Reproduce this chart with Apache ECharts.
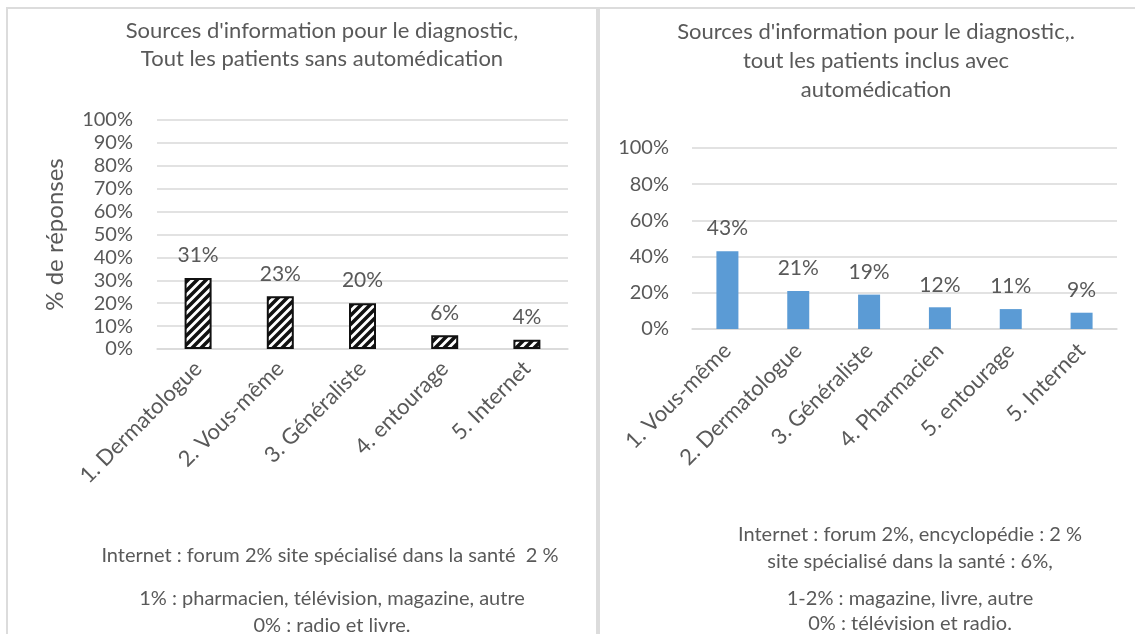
<!DOCTYPE html>
<html>
<head>
<meta charset="utf-8">
<script src="https://cdn.jsdelivr.net/npm/echarts@6/dist/echarts.min.js"></script>
<style>
  html, body { margin: 0; padding: 0; background: #fff; }
  #chart { width: 1135px; height: 634px; }
</style>
</head>
<body>
<div id="chart"></div>
<script>
// Données
const leftCategories = ['1. Dermatologue', '2. Vous-même', '3. Généraliste', '4. entourage', '5. Internet']
const leftValues = [31, 23, 20, 6, 4]
const leftTicks = [0, 10, 20, 30, 40, 50, 60, 70, 80, 90, 100]

const rightCategories = ['1. Vous-même', '2. Dermatologue', '3. Généraliste', '4. Pharmacien', '5. entourage', '5. Internet']
const rightValues = [43, 21, 19, 12, 11, 9]
const rightTicks = [0, 20, 40, 60, 80, 100]

const leftTitle = "Sources d'information pour le diagnostic,\nTout les patients sans automédication"
const rightTitle = "Sources d'information pour le diagnostic,.\ntout les patients inclus avec\nautomédication"
const leftNotes = 'Internet : forum 2% site spécialisé dans la santé  2 %'
const leftNotes2 = '1% : pharmacien, télévision, magazine, autre\n0% : radio et livre.'
const rightNotes = 'Internet : forum 2%, encyclopédie : 2 %\nsite spécialisé dans la santé : 6%,'
const rightNotes2 = '1-2% : magazine, livre, autre\n0% : télévision et radio.'

const FONT = 'Lato, "Open Sans", sans-serif'
const GREY = '#595959'

// motif hachuré pour les barres de gauche
function makeHatch() {
  const c = document.createElement('canvas')
  c.width = 9
  c.height = 9
  const ctx = c.getContext('2d')
  ctx.fillStyle = '#fff'
  ctx.fillRect(0, 0, 9, 9)
  ctx.strokeStyle = '#111'
  ctx.lineWidth = 3.5
  ctx.beginPath()
  ctx.moveTo(-2, 11); ctx.lineTo(11, -2)
  ctx.moveTo(-11, 11); ctx.lineTo(2, -2)
  ctx.moveTo(7, 11); ctx.lineTo(20, -2)
  ctx.stroke()
  return c
}

const chart = echarts.init(document.getElementById('chart'))

const valueAxisBase = {
  type: 'value',
  min: 0,
  max: 100,
  axisLine: { show: false },
  axisTick: { show: false },
  splitLine: { lineStyle: { color: '#d9d9d9', width: 1.5 } },
  axisLabel: { color: GREY, fontSize: 20, fontFamily: FONT, formatter: '{value}%' }
}

const catAxisBase = {
  type: 'category',
  axisLine: { lineStyle: { color: '#d9d9d9', width: 1.5 } },
  axisTick: { show: false },
  axisLabel: { color: GREY, fontSize: 22, fontFamily: FONT, rotate: 45, interval: 0 }
}

const labelBase = {
  show: true,
  position: 'top',
  distance: 12,
  color: GREY,
  fontSize: 21,
  fontFamily: FONT,
  formatter: '{c}%'
}

const titleStyle = { color: GREY, fontSize: 22, fontWeight: 'normal', fontFamily: FONT }
const noteStyle = { color: GREY, fontSize: 20, fontWeight: 'normal', fontFamily: FONT }

chart.setOption({
  animation: false,
  title: [
    { text: leftTitle, left: 317, top: 12, textAlign: 'center',
      textStyle: Object.assign({ lineHeight: 28 }, titleStyle) },
    { text: rightTitle, left: 871, top: 12, textAlign: 'center',
      textStyle: Object.assign({ lineHeight: 29 }, titleStyle) },
    { text: leftNotes, left: 325, top: 537, textAlign: 'center',
      textStyle: Object.assign({ lineHeight: 27 }, noteStyle) },
    { text: leftNotes2, left: 327, top: 580, textAlign: 'center',
      textStyle: Object.assign({ lineHeight: 27 }, noteStyle) },
    { text: rightNotes, left: 905, top: 516, textAlign: 'center',
      textStyle: Object.assign({ lineHeight: 27 }, noteStyle) },
    { text: rightNotes2, left: 905, top: 581, textAlign: 'center',
      textStyle: Object.assign({ lineHeight: 25 }, noteStyle) }
  ],
  grid: [
    { left: 157, right: 567, top: 120, bottom: 285 },
    { left: 692, right: 18, top: 148, bottom: 305 }
  ],
  xAxis: [
    Object.assign({}, catAxisBase, { gridIndex: 0, data: leftCategories,
      axisLabel: Object.assign({}, catAxisBase.axisLabel, { margin: 16 }) }),
    Object.assign({}, catAxisBase, { gridIndex: 1, data: rightCategories,
      axisLabel: Object.assign({}, catAxisBase.axisLabel, { margin: 18 }) })
  ],
  yAxis: [
    Object.assign({}, valueAxisBase, {
      gridIndex: 0,
      interval: leftTicks[1] - leftTicks[0],
      axisLabel: Object.assign({}, valueAxisBase.axisLabel, { margin: 24 }),
      name: '% de réponses',
      nameLocation: 'middle',
      nameGap: 90,
      nameTextStyle: { color: GREY, fontSize: 24, fontFamily: FONT }
    }),
    Object.assign({}, valueAxisBase, {
      gridIndex: 1,
      interval: rightTicks[1] - rightTicks[0],
      axisLabel: Object.assign({}, valueAxisBase.axisLabel, { margin: 23 })
    })
  ],
  series: [
    {
      type: 'bar',
      xAxisIndex: 0,
      yAxisIndex: 0,
      data: leftValues,
      barWidth: 27,
      itemStyle: {
        color: { image: makeHatch(), repetition: 'repeat' },
        borderColor: '#111',
        borderWidth: 2
      },
      label: labelBase
    },
    {
      type: 'bar',
      xAxisIndex: 1,
      yAxisIndex: 1,
      data: rightValues,
      barWidth: 22,
      itemStyle: { color: '#5b9bd5' },
      label: labelBase
    }
  ],
  graphic: [
    { type: 'rect', shape: { x: 6, y: 7, width: 1135, height: 2 }, style: { fill: '#dcdcdc' }, silent: true },
    { type: 'rect', shape: { x: 6, y: 7, width: 2, height: 640 }, style: { fill: '#dcdcdc' }, silent: true },
    { type: 'rect', shape: { x: 596, y: 7, width: 4, height: 640 }, style: { fill: '#dcdcdc' }, silent: true }
  ]
})
</script>
</body>
</html>
